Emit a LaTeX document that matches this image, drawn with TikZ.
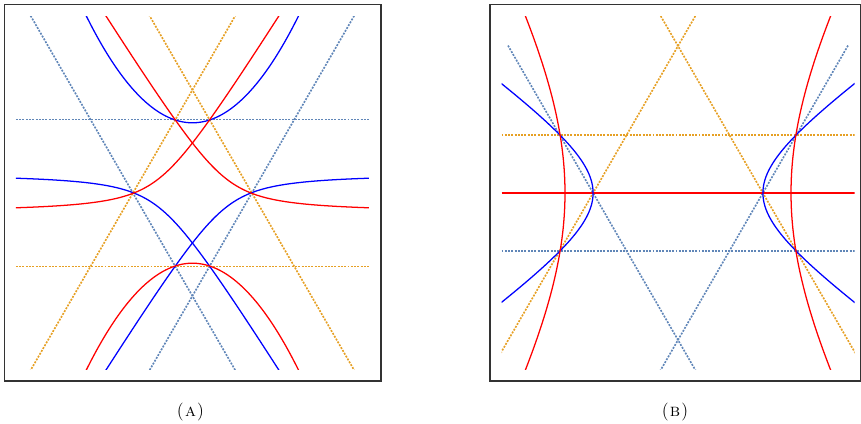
\documentclass[tikz,border=0pt]{standalone}
\definecolor{dotblue}{RGB}{96,134,184}
\definecolor{dotorange}{RGB}{230,160,36}
\begin{document}
\begin{tikzpicture}[x=0.67pt,y=0.67pt,
  frame/.style={black!80,line width=0.7pt},
  guide/.style={line width=1.1pt,dash pattern=on 1.3pt off 0.9pt},
  curve/.style={line width=0.85pt}]
  \useasboundingbox (0,0) rectangle (861,423);
  \draw[frame] (4.5,42) rectangle (381,418.5);
  \draw[frame] (490,42) rectangle (860.3,418.5);
  \node[font=\fontsize{12}{14}\selectfont] (labA) at (190.5,11) {(\kern0.8pt\textsc{a}\kern0.8pt)};
  \node[font=\fontsize{12}{14}\selectfont] (labB) at (675,11) {(\kern0.8pt\textsc{b}\kern0.8pt)};
  \begin{scope}[shift={(192.4,230)}]
    \clip (-176.5,-176.5) rectangle (176.5,176.5);
    \foreach \s/\col in {1/dotblue,-1/dotorange}{
      \draw[guide,\col] (-176.5,\s*73.4) -- (176.5,\s*73.4);
      \foreach \a in {60,120}
        \draw[guide,\col] (0,-\s*103) ++(\a:340) -- ++(\a+180:700);
    }
    \foreach \s/\col in {1/blue,-1/red}{
      \draw[curve,\col,domain=-112:112,samples=80,smooth]
        plot (\x,{\s*(70.2+0.00949*\x*\x)});
      \draw[curve,\col,domain=-92:180,samples=120,smooth]
        plot (\x,{\s*(0.8*\x-6.265-5*sqrt((5.253-0.16*\x)^2+48.92))});
      \draw[curve,\col,domain=-180:92,samples=120,smooth]
        plot (\x,{\s*(-0.8*\x-6.265-5*sqrt((5.253+0.16*\x)^2+48.92))});
    }
  \end{scope}
  \begin{scope}[shift={(678,230)}]
    \clip (-176.5,-176.5) rectangle (176.5,176.5);
    \foreach \s/\col in {1/dotorange,-1/dotblue}{
      \draw[guide,\col] (-176.5,\s*58.3) -- (176.5,\s*58.3);
      \foreach \a in {60,120}
        \draw[guide,\col] (0,\s*147) ++(\a:340) -- ++(\a+180:720);
    }
    \draw[curve,red] (-176.5,0) -- (176.5,0);
    \foreach \s in {1,-1}{
      \draw[curve,blue,domain=-1.45:1.45,samples=80,smooth]
        plot ({\s*84.9*cosh(\x)},{60*sinh(\x)});
      \draw[curve,red,domain=-0.9:0.9,samples=80,smooth]
        plot ({\s*113*cosh(\x)},{195*sinh(\x)});
    }
  \end{scope}
\end{tikzpicture}
\end{document}
